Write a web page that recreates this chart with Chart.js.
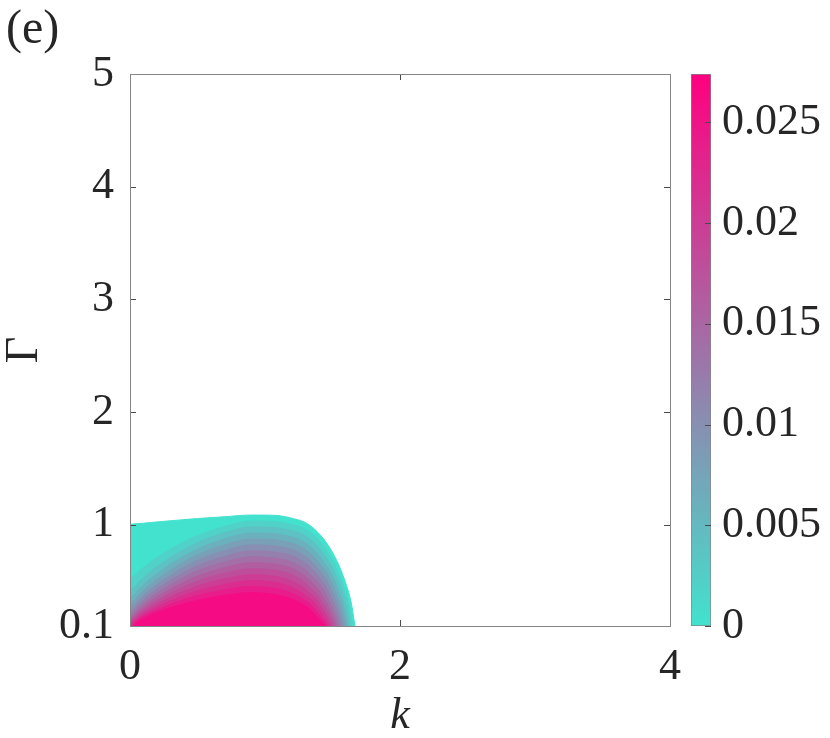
<!DOCTYPE html>
<html><head><meta charset="utf-8">
<script src="https://cdn.jsdelivr.net/npm/chart.js@4.4.1/dist/chart.umd.min.js"></script>
<style>
html,body{margin:0;padding:0;background:#fff;}
#wrap{position:relative;width:830px;height:738px;overflow:hidden;}
#main{position:absolute;left:0;top:0;}
#cbar{position:absolute;left:680px;top:0;}
</style></head><body>
<div id="wrap"><canvas id="main" width="830" height="738"></canvas><canvas id="cbar" width="150" height="738"></canvas></div>
<script>
// ---- tick values / labels ----
const xTicks = [0, 2, 4];
const xTickLabels = ['0', '2', '4'];
const yTicks = [0.1, 1, 2, 3, 4, 5];
const yTickLabels = ['0.1', '1', '2', '3', '4', '5'];
const cbTicks = [0, 0.005, 0.01, 0.015, 0.02, 0.025];
const cbTickLabels = ['0', '0.005', '0.01', '0.015', '0.02', '0.025'];
const cbMin = 0;
const cbMax = 0.0274;

// ---- contour levels (value of each filled contour) ----
const contourLevels = [0, 0.002, 0.004, 0.006, 0.008, 0.010, 0.012, 0.014, 0.016, 0.018, 0.020, 0.022, 0.024, 0.026];

// ---- contour boundary curves: k and Gamma ----
const L00_k = [0, 0.1, 0.24, 0.35, 0.5, 0.7, 0.9, 1.067, 1.217, 1.317, 1.417, 1.487, 1.547, 1.597, 1.637, 1.667];
const L00_g = [1.003, 1.013, 1.028, 1.039, 1.054, 1.070, 1.085, 1.083, 1.051, 1.006, 0.898, 0.780, 0.642, 0.484, 0.317, 0.1];
const L01_k = [0, 0.01, 0.03, 0.06, 0.1, 0.16, 0.24, 0.35, 0.5, 0.7, 0.9, 1.050, 1.200, 1.300, 1.400, 1.470, 1.530, 1.580, 1.620, 1.650];
const L01_g = [0.1, 0.516, 0.542, 0.578, 0.620, 0.675, 0.739, 0.817, 0.903, 0.983, 1.032, 1.030, 1.000, 0.958, 0.860, 0.742, 0.612, 0.459, 0.299, 0.1];
const L02_k = [0, 0.01, 0.03, 0.06, 0.1, 0.16, 0.24, 0.35, 0.5, 0.7, 0.9, 1.033, 1.183, 1.283, 1.383, 1.453, 1.513, 1.563, 1.603, 1.633];
const L02_g = [0.1, 0.414, 0.442, 0.483, 0.529, 0.590, 0.660, 0.745, 0.840, 0.927, 0.979, 0.977, 0.950, 0.910, 0.816, 0.705, 0.581, 0.434, 0.283, 0.1];
const L03_k = [0, 0.01, 0.03, 0.06, 0.1, 0.16, 0.24, 0.35, 0.5, 0.7, 0.9, 1.015, 1.165, 1.265, 1.365, 1.435, 1.495, 1.545, 1.585, 1.615];
const L03_g = [0.1, 0.346, 0.375, 0.417, 0.465, 0.527, 0.600, 0.687, 0.784, 0.873, 0.926, 0.924, 0.900, 0.862, 0.773, 0.668, 0.551, 0.410, 0.267, 0.1];
const L04_k = [0, 0.01, 0.03, 0.06, 0.1, 0.16, 0.24, 0.35, 0.5, 0.7, 0.9, 0.998, 1.148, 1.248, 1.348, 1.418, 1.478, 1.528, 1.568, 1.598];
const L04_g = [0.1, 0.294, 0.324, 0.365, 0.413, 0.476, 0.548, 0.635, 0.732, 0.820, 0.873, 0.871, 0.850, 0.814, 0.730, 0.631, 0.521, 0.386, 0.252, 0.1];
const L05_k = [0, 0.01, 0.03, 0.06, 0.1, 0.16, 0.24, 0.35, 0.5, 0.7, 0.9, 0.981, 1.131, 1.231, 1.331, 1.401, 1.461, 1.511, 1.551, 1.581];
const L05_g = [0.1, 0.253, 0.283, 0.323, 0.370, 0.432, 0.502, 0.588, 0.683, 0.769, 0.820, 0.819, 0.799, 0.765, 0.687, 0.594, 0.492, 0.363, 0.237, 0.1];
const L06_k = [0, 0.01, 0.03, 0.06, 0.1, 0.16, 0.24, 0.35, 0.5, 0.7, 0.9, 0.964, 1.114, 1.214, 1.314, 1.384, 1.444, 1.494, 1.534, 1.564];
const L06_g = [0.1, 0.220, 0.248, 0.288, 0.333, 0.392, 0.461, 0.543, 0.635, 0.718, 0.767, 0.766, 0.749, 0.717, 0.644, 0.557, 0.462, 0.340, 0.223, 0.1];
const L07_k = [0.004, 0.01, 0.03, 0.06, 0.1, 0.16, 0.24, 0.35, 0.5, 0.7, 0.9, 0.946, 1.096, 1.196, 1.296, 1.366, 1.426, 1.476, 1.516, 1.546];
const L07_g = [0.1, 0.193, 0.220, 0.258, 0.301, 0.358, 0.423, 0.502, 0.589, 0.668, 0.715, 0.714, 0.699, 0.669, 0.601, 0.521, 0.433, 0.318, 0.210, 0.1];
const L08_k = [0.004, 0.01, 0.03, 0.06, 0.1, 0.16, 0.24, 0.35, 0.5, 0.7, 0.9, 1.079, 1.179, 1.279, 1.349, 1.409, 1.459, 1.499, 1.529];
const L08_g = [0.1, 0.170, 0.195, 0.231, 0.272, 0.326, 0.387, 0.461, 0.543, 0.618, 0.662, 0.648, 0.621, 0.558, 0.484, 0.403, 0.297, 0.197, 0.1];
const L09_k = [0.004, 0.01, 0.03, 0.06, 0.1, 0.16, 0.24, 0.35, 0.5, 0.7, 0.9, 1.062, 1.162, 1.262, 1.332, 1.392, 1.442, 1.482, 1.512];
const L09_g = [0.1, 0.151, 0.175, 0.208, 0.246, 0.296, 0.353, 0.423, 0.499, 0.568, 0.609, 0.597, 0.572, 0.515, 0.447, 0.374, 0.276, 0.185, 0.1];
const L10_k = [0.006, 0.01, 0.03, 0.06, 0.1, 0.16, 0.24, 0.35, 0.5, 0.7, 0.9, 1.045, 1.145, 1.245, 1.315, 1.375, 1.425, 1.465, 1.495];
const L10_g = [0.1, 0.136, 0.158, 0.189, 0.224, 0.269, 0.322, 0.385, 0.455, 0.519, 0.556, 0.546, 0.523, 0.472, 0.411, 0.345, 0.255, 0.174, 0.1];
const L11_k = [0.008, 0.012, 0.03, 0.06, 0.1, 0.16, 0.24, 0.35, 0.5, 0.7, 0.9, 1.027, 1.127, 1.227, 1.297, 1.357, 1.407, 1.447, 1.477];
const L11_g = [0.1, 0.124, 0.143, 0.171, 0.203, 0.244, 0.291, 0.349, 0.412, 0.469, 0.503, 0.494, 0.474, 0.428, 0.374, 0.316, 0.235, 0.163, 0.1];
const L12_k = [0.015, 0.03, 0.06, 0.1, 0.16, 0.24, 0.35, 0.5, 0.7, 0.9, 1.010, 1.110, 1.210, 1.280, 1.340, 1.390, 1.430, 1.460];
const L12_g = [0.1, 0.125, 0.152, 0.184, 0.221, 0.263, 0.314, 0.370, 0.420, 0.450, 0.443, 0.426, 0.385, 0.338, 0.287, 0.216, 0.153, 0.1];
const L13_k = [0.03, 0.06, 0.1, 0.16, 0.24, 0.35, 0.5, 0.7, 0.9, 0.993, 1.093, 1.193, 1.263, 1.323, 1.373, 1.413, 1.443];
const L13_g = [0.1, 0.140, 0.165, 0.200, 0.238, 0.281, 0.329, 0.372, 0.397, 0.391, 0.376, 0.342, 0.302, 0.259, 0.198, 0.145, 0.1];

const levelK = [L00_k, L01_k, L02_k, L03_k, L04_k, L05_k, L06_k, L07_k, L08_k, L09_k, L10_k, L11_k, L12_k, L13_k];
const levelG = [L00_g, L01_g, L02_g, L03_g, L04_g, L05_g, L06_g, L07_g, L08_g, L09_g, L10_g, L11_g, L12_g, L13_g];

// ---- style ----
const FONT = '"Liberation Serif","Times New Roman",serif';
const TEXT = '#262626';
const BOX = '#858585';
const TICKC = '#4a4a4a';
const C_LOW = [66, 226, 206];
const C_HIGH = [255, 0, 128];
Chart.defaults.font.family = FONT;
Chart.defaults.color = TEXT;

function cmap(v) {
  const t = Math.max(0, Math.min(1, (v - cbMin) / (cbMax - cbMin)));
  const c = C_LOW.map((a, i) => Math.round(a + (C_HIGH[i] - a) * t));
  return 'rgb(' + c.join(',') + ')';
}

const datasets = contourLevels.map((lv, i) => ({
  label: 'level ' + lv,
  data: levelK[i].map((k, j) => ({ x: k, y: levelG[i][j] })),
  fill: 'start',
  backgroundColor: cmap(lv),
  borderColor: cmap(lv),
  borderWidth: 1,
  pointRadius: 0,
  cubicInterpolationMode: 'monotone',
  order: contourLevels.length - i
}));

const framePlugin = {
  id: 'frame',
  afterDatasetsDraw(chart) {
    const { ctx, chartArea: a, scales } = chart;
    ctx.save();
    ctx.lineWidth = 1;
    ctx.strokeStyle = TICKC;
    ctx.beginPath();
    xTicks.forEach(v => {
      const x = Math.round(scales.x.getPixelForValue(v)) + 0.5;
      ctx.moveTo(x, a.bottom); ctx.lineTo(x, a.bottom - 6);
      ctx.moveTo(x, a.top); ctx.lineTo(x, a.top + 6);
    });
    yTicks.forEach(v => {
      const y = Math.round(scales.y.getPixelForValue(v)) + 0.5;
      ctx.moveTo(a.left, y); ctx.lineTo(a.left + 6, y);
      ctx.moveTo(a.right, y); ctx.lineTo(a.right - 6, y);
    });
    ctx.stroke();
    ctx.strokeStyle = BOX;
    ctx.strokeRect(Math.round(a.left) + 0.5, Math.round(a.top) + 0.5, Math.round(a.right - a.left), Math.round(a.bottom - a.top));
    ctx.restore();
  }
};

new Chart(document.getElementById('main'), {
  type: 'line',
  data: { datasets },
  options: {
    responsive: false, animation: false, devicePixelRatio: 1,
    layout: { padding: { left: 6, right: 160, top: 0, bottom: 0 } },
    plugins: {
      legend: { display: false }, tooltip: { enabled: false },
      title: { display: true, text: '(e)', align: 'start', color: TEXT,
        font: { size: 48, weight: 'normal', lineHeight: 1.2 }, padding: { top: 2, bottom: 14.4 } }
    },
    scales: {
      x: {
        type: 'linear', min: 0, max: 4,
        afterBuildTicks: s => { s.ticks = xTicks.map(v => ({ value: v })); },
        ticks: { font: { size: 44 }, padding: 14.6, maxRotation: 0, autoSkip: false, color: TEXT,
          callback: (v, i) => xTickLabels[i] },
        grid: { display: false, drawTicks: false }, border: { display: false },
        title: { display: true, text: 'k', color: TEXT, font: { size: 44, style: 'italic', lineHeight: 1 }, padding: { top: 0, bottom: 0 } },
        afterFit: s => { s.height = 112; }
      },
      y: {
        type: 'linear', min: 0.1, max: 5,
        afterBuildTicks: s => { s.ticks = yTicks.map(v => ({ value: v })); },
        ticks: { font: { size: 44 }, padding: 16, autoSkip: false, color: TEXT,
          callback: (v, i) => yTickLabels[i] },
        grid: { display: false, drawTicks: false }, border: { display: false },
        title: { display: true, text: 'Γ', color: TEXT, font: { size: 46, lineHeight: 1 }, padding: { top: -4, bottom: 0 } },
        afterFit: s => { s.width = 124; }
      }
    }
  },
  plugins: [framePlugin]
});

const cbTickPlugin = {
  id: 'cbticks',
  afterDatasetsDraw(chart) {
    const { ctx, chartArea: a, scales } = chart;
    ctx.save();
    ctx.lineWidth = 1;
    ctx.strokeStyle = TICKC;
    ctx.beginPath();
    cbTicks.forEach(v => {
      const y = Math.round(scales.y.getPixelForValue(v)) + 0.5;
      ctx.moveTo(a.right, y); ctx.lineTo(a.right - 6, y);
    });
    ctx.stroke();
    ctx.restore();
  }
};

new Chart(document.getElementById('cbar'), {
  type: 'bar',
  data: {
    labels: ['colorbar'],
    datasets: [{
      data: [[cbMin, cbMax]],
      backgroundColor: (c) => {
        const ch = c.chart;
        if (!ch.chartArea) return cmap((cbMin + cbMax) / 2);
        const ys = ch.scales.y;
        const g = ch.ctx.createLinearGradient(0, ys.getPixelForValue(cbMin), 0, ys.getPixelForValue(cbMax));
        g.addColorStop(0, cmap(cbMin));
        g.addColorStop(1, cmap(cbMax));
        return g;
      },
      borderColor: BOX, borderWidth: 1, borderSkipped: false,
      barPercentage: 1, categoryPercentage: 1
    }]
  },
  options: {
    responsive: false, animation: false, devicePixelRatio: 1,
    layout: { padding: { left: 11, right: 0, top: 74, bottom: 112 } },
    plugins: { legend: { display: false }, tooltip: { enabled: false } },
    scales: {
      x: { display: false },
      y: {
        position: 'right', min: cbMin, max: cbMax,
        afterBuildTicks: s => { s.ticks = cbTicks.map(v => ({ value: v })); },
        ticks: { font: { size: 44 }, padding: 11, autoSkip: false, color: TEXT,
          callback: (v, i) => cbTickLabels[i] },
        grid: { display: false, drawTicks: false }, border: { display: false },
        afterFit: s => { s.width = 119; }
      }
    }
  },
  plugins: [cbTickPlugin]
});
</script></body></html>
